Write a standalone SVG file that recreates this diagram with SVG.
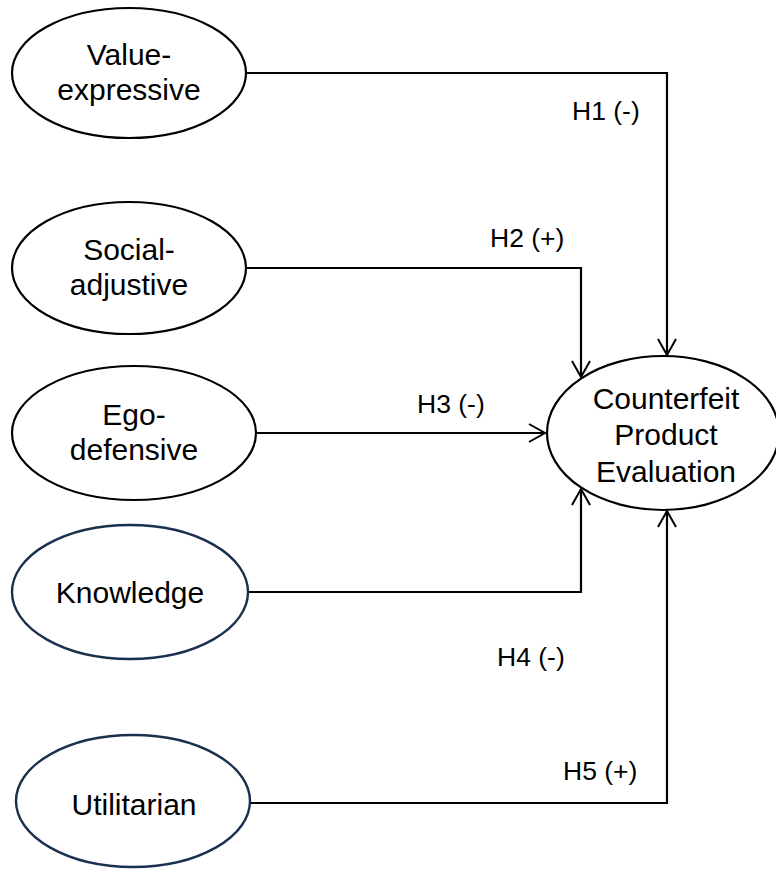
<svg xmlns="http://www.w3.org/2000/svg" width="776" height="869" viewBox="0 0 776 869">
<defs>
<marker id="arr" markerUnits="userSpaceOnUse" markerWidth="20" markerHeight="22" viewBox="-18 -11 20 22" refX="0" refY="0" orient="auto">
<path d="M-16,-9 L0,0 L-16,9" fill="none" stroke="#000" stroke-width="2"/>
</marker>
</defs>
<style>
.n{fill:#fff;stroke:#000;stroke-width:2.2}
.nb{fill:#fff;stroke:#1b2f4e;stroke-width:2.4}
.t{font-family:"Liberation Sans",Arial,sans-serif;font-size:30px;fill:#000;text-anchor:middle}
.l{font-family:"Liberation Sans",Arial,sans-serif;font-size:26.5px;fill:#000}
.c{fill:none;stroke:#000;stroke-width:2.2}
</style>
<rect width="776" height="869" fill="#fff"/>
<g id="connectors">
<path class="c" d="M246,73 H667 V355" marker-end="url(#arr)"/>
<path class="c" d="M246,268 H581 V377" marker-end="url(#arr)"/>
<path class="c" d="M256,433 H545" marker-end="url(#arr)"/>
<path class="c" d="M248,592 H581 V489" marker-end="url(#arr)"/>
<path class="c" d="M251,803 H667 V511" marker-end="url(#arr)"/>
<text class="l" x="572" y="120">H1 (-)</text>
<text class="l" x="490" y="247">H2 (+)</text>
<text class="l" x="417" y="413">H3 (-)</text>
<text class="l" x="497" y="666">H4 (-)</text>
<text class="l" x="563" y="780">H5 (+)</text>
</g>
<g id="value-expressive">
<ellipse class="n" cx="129" cy="73" rx="117" ry="65"/>
<text class="t" x="129" y="65">Value-</text>
<text class="t" x="129" y="100">expressive</text>
</g>
<g id="social-adjustive">
<ellipse class="n" cx="129" cy="268" rx="117" ry="66"/>
<text class="t" x="129" y="260">Social-</text>
<text class="t" x="129" y="295">adjustive</text>
</g>
<g id="ego-defensive">
<ellipse class="n" cx="134" cy="433" rx="122" ry="67"/>
<text class="t" x="134" y="425">Ego-</text>
<text class="t" x="134" y="460">defensive</text>
</g>
<g id="knowledge">
<ellipse class="nb" cx="130" cy="592" rx="118" ry="67"/>
<text class="t" x="130" y="603">Knowledge</text>
</g>
<g id="utilitarian">
<ellipse class="nb" cx="133" cy="801" rx="117" ry="66"/>
<text class="t" x="134" y="815">Utilitarian</text>
</g>
<g id="counterfeit-product-evaluation">
<ellipse class="n" cx="663" cy="433" rx="116" ry="77"/>
<text class="t" x="666" y="409">Counterfeit</text>
<text class="t" x="666" y="445">Product</text>
<text class="t" x="666" y="482">Evaluation</text>
</g>
</svg>
